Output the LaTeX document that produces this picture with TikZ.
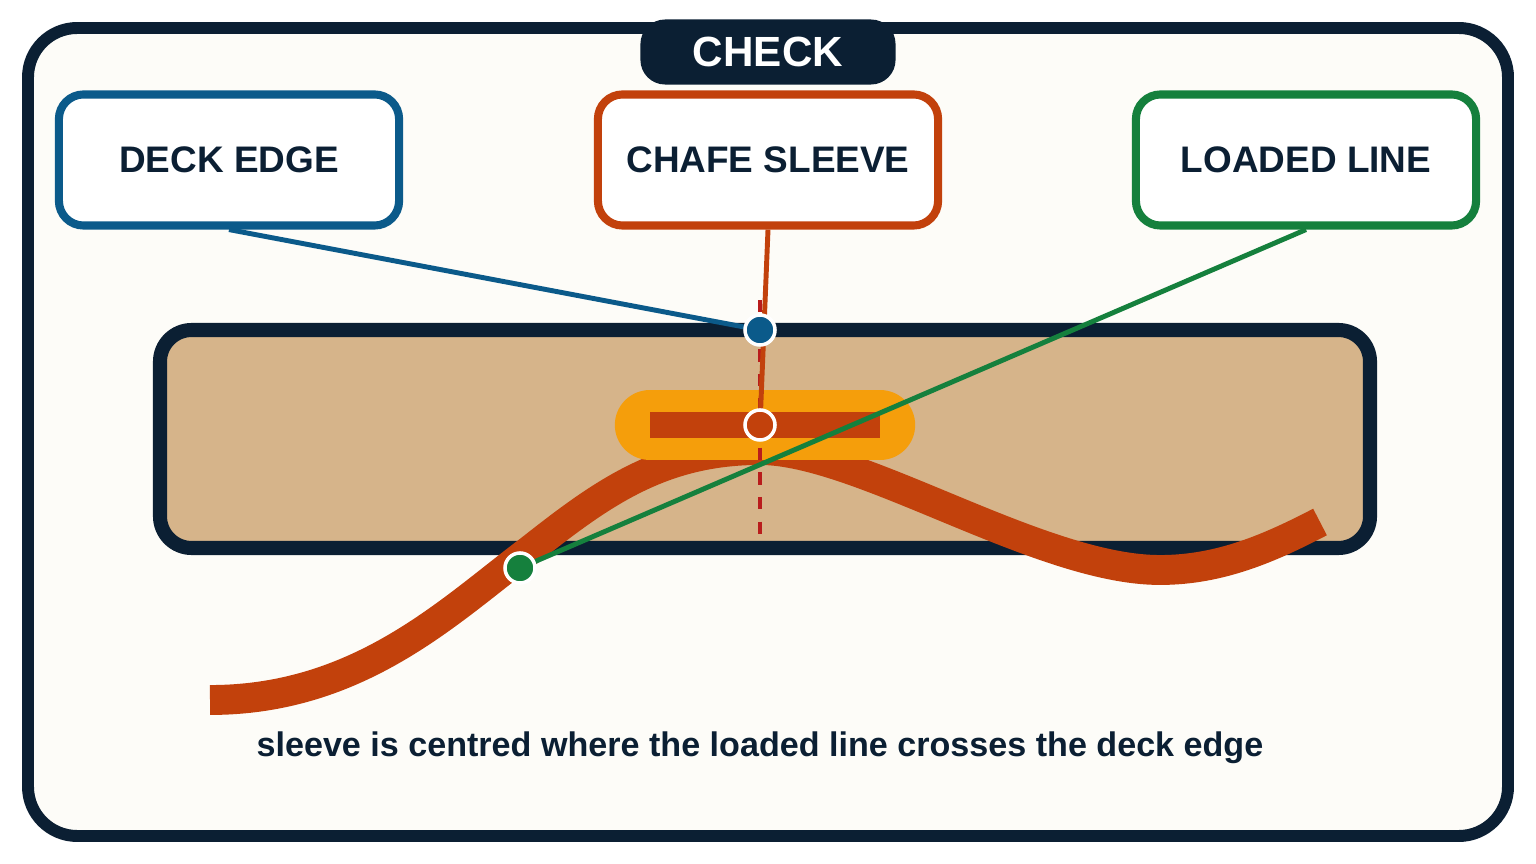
\documentclass[tikz,border=0pt]{standalone}
\usepackage{fontspec}
\setmainfont{Liberation Sans}
\definecolor{navy}{HTML}{0B1F33}
\definecolor{deckblue}{HTML}{0B5A8A}
\definecolor{chafe}{HTML}{C2410C}
\definecolor{loaded}{HTML}{15803D}
\definecolor{wood}{HTML}{D6B48A}
\definecolor{amber}{HTML}{F59E0B}
\definecolor{paper}{HTML}{FDFCF8}
\definecolor{markred}{HTML}{B91C1C}
\tikzset{
 label box/.style={draw=#1, line width=2.3pt, fill=white, rounded corners=7pt,
   minimum width=3.4cm, minimum height=1.31cm, font=\bfseries\fontsize{10.5}{12}\selectfont, text=navy},
 leader/.style={draw=#1, line width=1.4pt},
 dot/.style={circle, fill=#1, draw=white, line width=1pt, inner sep=0pt, minimum size=0.3cm}
}
\begin{document}
\begin{tikzpicture}[x=0.01cm,y=-0.01cm]
 \useasboundingbox[fill=white] (0,0) rectangle (1536,864);
 % frame and tab
 \draw[navy, line width=3.4pt, fill=paper, rounded corners=14pt] (28,28) rectangle (1508,836);
 \node[fill=navy, rounded corners=7pt, minimum width=2.55cm, minimum height=0.65cm,
   text=white, font=\bfseries\fontsize{12}{14}\selectfont] (tab) at (768,52) {CHECK};
 % deck
 \draw[navy, line width=4pt, fill=wood, rounded corners=9pt] (160,330) rectangle (1370,548);
 % rope
 \draw[chafe, line width=8.5pt] (210,700) .. controls (360,700) and (450,610) .. (530,550)
   .. controls (600,495) and (660,450) .. (760,450)
   .. controls (860,450) and (1040,570) .. (1160,570)
   .. controls (1220,570) and (1270,548) .. (1320,522);
 % sleeve
 \draw[amber, line width=20pt, line cap=round] (650,425) -- (880,425);
 \fill[chafe] (650,412) rectangle (880,438);
 % marker
 \coordinate (mtop) at (760,300);
 \coordinate (mbot) at (760,540);
 \draw[markred, line width=1.4pt, dash pattern=on 3.5pt off 3.5pt] (mtop) -- (mbot);
 % labels
 \node[label box=deckblue] (deck) at (229,160) {DECK EDGE};
 \node[label box=chafe] (sleeve) at (768,160) {CHAFE SLEEVE};
 \node[label box=loaded] (line) at (1306,160) {LOADED LINE};
 % points
 \coordinate (pdeck) at (760,330);
 \coordinate (psleeve) at (760,425);
 \coordinate (pline) at (520,568);
 \draw[leader=deckblue] (deck.south) -- (pdeck);
 \draw[leader=chafe] (sleeve.south) -- (psleeve);
 \draw[leader=loaded] (line.south) -- (pline);
 \node[dot=deckblue] at (pdeck) {};
 \node[dot=chafe] at (psleeve) {};
 \node[dot=loaded] at (pline) {};
 % caption
 \node[text=navy, font=\bfseries\fontsize{9.7}{11}\selectfont] (note) at (760,748)
   {sleeve is centred where the loaded line crosses the deck edge};
\end{tikzpicture}
\end{document}
